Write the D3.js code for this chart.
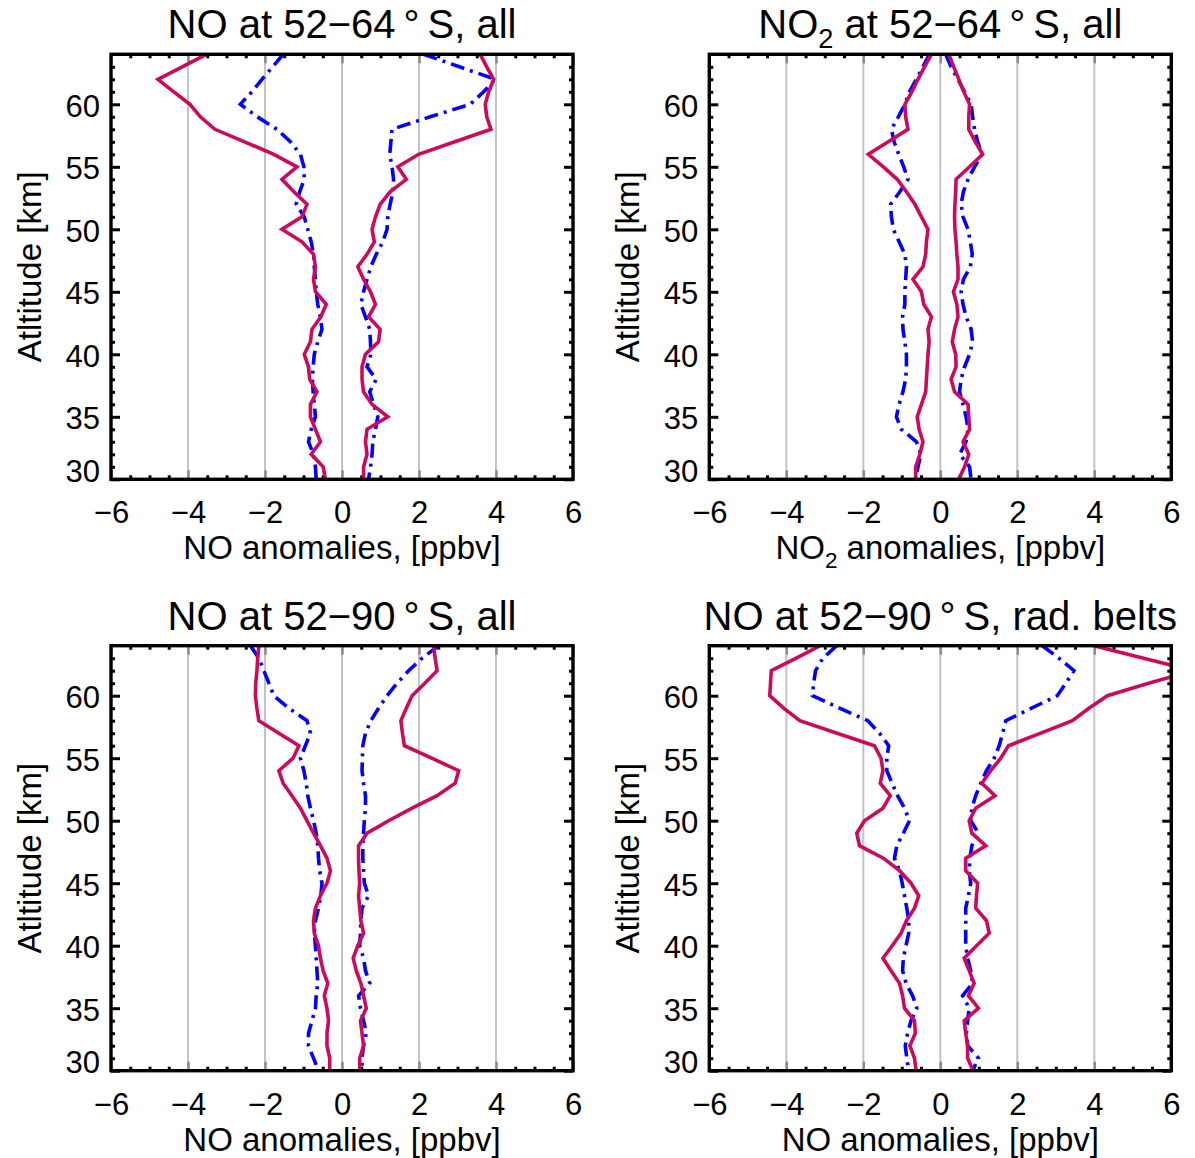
<!DOCTYPE html>
<html>
<head>
<meta charset="utf-8">
<script src="https://cdn.jsdelivr.net/npm/d3@7"></script>
<style>
body { margin: 0; background: #fff; }
svg { display: block; font-family: "Liberation Sans", Arial, Helvetica, sans-serif; }
</style>
</head>
<body>
<svg width="1195" height="1158"></svg>
<script>
var altitudes = [64, 63, 62, 61, 60, 59, 58, 57, 56, 55, 54, 53, 52, 51, 50, 49, 48, 47, 46, 45,
                 44, 43, 42, 41, 40, 39, 38, 37, 36, 35, 34, 33, 32, 31, 30];
var xTickValues = [-6, -4, -2, 0, 2, 4, 6];
var yTickValues = [30, 35, 40, 45, 50, 55, 60];

// NO at 52-64S, all
var no64RedLow = [-3.52, -4.15, -4.78, -4.37, -3.95, -3.68, -3.30, -2.53, -1.77, -1.17,
                  -1.56, -1.25, -0.91, -1.04, -1.56, -1.04, -0.74, -0.69, -0.74, -0.69,
                  -0.41, -0.55, -0.78, -0.82, -0.98, -0.87, -0.84, -0.65, -0.82, -0.82,
                  -0.69, -0.56, -0.80, -0.49, -0.43];
var no64BlueLow = [-1.53, -1.80, -2.08, -2.34, -2.64, -2.20, -1.69, -1.34, -1.08, -0.99,
                   -0.98, -1.10, -1.19, -0.98, -0.89, -0.80, -0.74, -0.72, -0.69, -0.67,
                   -0.63, -0.56, -0.52, -0.63, -0.72, -0.75, -0.77, -0.75, -0.72, -0.69,
                   -0.80, -0.87, -0.74, -0.69, -0.67];
var no64RedHigh = [3.59, 3.76, 3.94, 3.81, 3.72, 3.76, 3.87, 2.93, 1.99, 1.45,
                   1.67, 1.25, 0.99, 0.87, 0.78, 0.84, 0.65, 0.41, 0.56, 0.74,
                   0.87, 0.69, 0.99, 0.95, 0.61, 0.52, 0.52, 0.56, 0.78, 1.19,
                   0.65, 0.61, 0.65, 0.56, 0.56];
var no64BlueHigh = [2.12, 3.05, 3.98, 3.68, 3.33, 2.29, 1.30, 1.27, 1.24, 1.30,
                    1.34, 1.32, 1.25, 1.19, 1.17, 1.06, 0.89, 0.75, 0.65, 0.56,
                    0.49, 0.61, 0.72, 0.74, 0.75, 0.65, 0.89, 0.72, 0.82, 0.93,
                    0.87, 0.80, 0.78, 0.74, 0.69];

// NO2 at 52-64S, all
var no2RedLow = [-0.23, -0.41, -0.58, -0.74, -0.92, -0.90, -0.84, -1.35, -1.87, -1.48,
                 -1.12, -0.88, -0.66, -0.49, -0.32, -0.36, -0.38, -0.45, -0.71, -0.49,
                 -0.43, -0.23, -0.32, -0.29, -0.32, -0.34, -0.36, -0.38, -0.49, -0.60,
                 -0.55, -0.45, -0.53, -0.64, -0.64];
var no2BlueLow = [-0.28, -0.45, -0.62, -0.80, -0.92, -1.09, -1.27, -1.20, -1.08, -0.95,
                  -0.84, -1.05, -1.29, -1.27, -1.22, -1.07, -0.92, -0.88, -0.90, -0.92,
                  -0.92, -0.98, -0.97, -0.92, -0.88, -0.88, -0.90, -0.97, -1.07, -1.14,
                  -1.01, -0.62, -0.50, -0.58, -0.64];
var no2RedHigh = [0.22, 0.35, 0.48, 0.61, 0.76, 0.74, 0.74, 0.91, 1.10, 0.76,
                  0.41, 0.40, 0.38, 0.37, 0.38, 0.41, 0.43, 0.46, 0.46, 0.34,
                  0.43, 0.46, 0.37, 0.31, 0.40, 0.41, 0.28, 0.37, 0.72, 0.74,
                  0.76, 0.59, 0.74, 0.63, 0.48];
var no2BlueHigh = [0.14, 0.28, 0.46, 0.63, 0.80, 0.84, 0.89, 0.97, 1.09, 0.89,
                   0.72, 0.60, 0.54, 0.59, 0.72, 0.78, 0.83, 0.78, 0.60, 0.54,
                   0.59, 0.67, 0.80, 0.84, 0.76, 0.63, 0.54, 0.50, 0.59, 0.67,
                   0.72, 0.67, 0.50, 0.76, 0.80];

// NO at 52-90S, all
var no90RedLow = [-2.16, -2.19, -2.21, -2.24, -2.25, -2.21, -2.16, -1.64, -1.12, -1.27,
                  -1.64, -1.53, -1.30, -1.08, -0.91, -0.74, -0.56, -0.39, -0.30, -0.39,
                  -0.56, -0.69, -0.74, -0.72, -0.61, -0.56, -0.49, -0.37, -0.46, -0.39,
                  -0.35, -0.39, -0.39, -0.32, -0.32];
var no90BlueLow = [-2.38, -2.16, -2.03, -1.90, -1.77, -1.38, -0.91, -0.82, -0.95, -1.08,
                   -0.99, -0.93, -0.89, -0.82, -0.74, -0.67, -0.63, -0.61, -0.58, -0.52,
                   -0.55, -0.61, -0.69, -0.72, -0.69, -0.67, -0.65, -0.63, -0.67, -0.69,
                   -0.78, -0.87, -0.87, -0.74, -0.61];
var no90RedHigh = [2.38, 2.42, 2.47, 2.15, 1.82, 1.67, 1.53, 1.57, 1.62, 2.33,
                   3.03, 2.94, 2.47, 1.82, 1.21, 0.65, 0.43, 0.43, 0.44, 0.46,
                   0.43, 0.46, 0.49, 0.56, 0.41, 0.29, 0.37, 0.49, 0.56, 0.63,
                   0.48, 0.52, 0.56, 0.46, 0.46];
var no90BlueHigh = [2.51, 2.08, 1.73, 1.43, 1.17, 0.95, 0.75, 0.61, 0.54, 0.53,
                    0.52, 0.56, 0.61, 0.61, 0.58, 0.56, 0.54, 0.54, 0.56, 0.58,
                    0.69, 0.52, 0.49, 0.48, 0.46, 0.56, 0.61, 0.72, 0.43, 0.48,
                    0.56, 0.63, 0.56, 0.52, 0.52];

// NO at 52-90S, rad. belts
var beltsRedLow = [-3.12, -3.74, -4.39, -4.41, -4.43, -4.07, -3.65, -2.68, -1.71, -1.54,
                   -1.49, -1.56, -1.30, -1.49, -1.97, -2.17, -2.10, -1.48, -1.06, -0.76,
                   -0.56, -0.67, -0.88, -1.02, -1.25, -1.49, -1.28, -1.06, -0.98, -0.93,
                   -0.67, -0.65, -0.79, -0.67, -0.63];
var beltsBlueLow = [-2.69, -3.05, -3.24, -3.29, -3.32, -2.62, -1.88, -1.58, -1.34, -1.39,
                    -1.39, -1.25, -1.11, -0.93, -0.80, -0.96, -1.13, -1.19, -1.06, -0.99,
                    -0.93, -0.87, -0.82, -0.82, -0.89, -0.96, -0.98, -0.89, -0.72, -0.61,
                    -0.76, -0.85, -0.91, -0.87, -0.82];
var beltsRedHigh = [3.99, 5.28, 6.57, 5.41, 4.34, 3.86, 3.43, 2.61, 1.77, 1.57,
                    1.31, 1.08, 1.42, 0.92, 0.75, 0.82, 1.18, 0.66, 0.66, 0.97,
                    0.94, 0.92, 1.20, 1.27, 0.94, 0.62, 0.75, 0.88, 0.73, 0.99,
                    0.62, 0.66, 0.71, 0.71, 0.85];
var beltsBlueHigh = [2.65, 3.08, 3.47, 3.26, 3.04, 2.37, 1.70, 1.62, 1.53, 1.40,
                     1.20, 1.05, 0.92, 0.82, 0.79, 0.99, 0.82, 0.77, 0.75, 0.79,
                     0.73, 0.66, 0.66, 0.66, 0.66, 0.71, 0.79, 0.84, 0.58, 0.75,
                     0.71, 0.68, 0.71, 0.99, 0.84];

var titles = [
  [["NO", 0], [" at 52\u221264\u2009\u00b0\u2009S, all", 0]],
  [["NO", 0], ["2", 1], [" at 52\u221264\u2009\u00b0\u2009S, all", 0]],
  [["NO", 0], [" at 52\u221290\u2009\u00b0\u2009S, all", 0]],
  [["NO", 0], [" at 52\u221290\u2009\u00b0\u2009S, rad. belts", 0]]
];
var xLabels = [
  [["NO anomalies, [ppbv]", 0]],
  [["NO", 0], ["2", 1], [" anomalies, [ppbv]", 0]],
  [["NO anomalies, [ppbv]", 0]],
  [["NO anomalies, [ppbv]", 0]]
];
var series = [
  [no64BlueLow, no64BlueHigh, no64RedLow, no64RedHigh],
  [no2BlueLow, no2BlueHigh, no2RedLow, no2RedHigh],
  [no90BlueLow, no90BlueHigh, no90RedLow, no90RedHigh],
  [beltsBlueLow, beltsBlueHigh, beltsRedLow, beltsRedHigh]
];

var svg = d3.select("svg");
var plotLefts = [111, 709.3], plotTops = [54.3, 645.7];
var width = 462, height = 425;
var red = "#cc0a5c", blue = "#0000ff";

function richText(sel, pieces, size) {
  var sub = false;
  pieces.forEach(function(p) {
    var t = sel.append("tspan").text(p[0]);
    if (p[1]) {
      t.attr("font-size", size * 0.68).attr("dy", size * 0.25);
      sub = true;
    } else if (sub) {
      t.attr("dy", -size * 0.25);
      sub = false;
    }
  });
}

function cleanAxis(s) {
  s.select(".domain").remove();
  s.attr("font-family", null).attr("font-size", null);
}

function drawPanel(i) {
  var col = i % 2, row = Math.floor(i / 2);
  var left = plotLefts[col], top = plotTops[row];

  var x = d3.scaleLinear().domain([-6, 6]).range([0, width]);
  var y = d3.scaleLinear().domain([30, 64]).range([height, 0]);

  var g = svg.append("g").attr("transform", "translate(" + left + "," + top + ")");

  g.append("clipPath").attr("id", "clip" + i)
    .append("rect").attr("width", width).attr("height", height);

  // vertical grid
  g.selectAll(".grid").data([-4, -2, 0, 2, 4]).enter().append("line")
    .attr("class", "grid")
    .attr("x1", function(d) { return x(d); }).attr("x2", function(d) { return x(d); })
    .attr("y1", 0).attr("y2", height)
    .attr("stroke", "#c4c4c4").attr("stroke-width", 2);

  // x ticks, bottom with labels
  var xb = g.append("g").attr("transform", "translate(0," + height + ")")
    .call(d3.axisBottom(x).tickValues(xTickValues).tickSize(-9).tickPadding(22))
    .call(cleanAxis);
  xb.selectAll("line").attr("stroke", "#8a8a8a").attr("stroke-width", 2.5);
  xb.selectAll("text").attr("font-size", 31).attr("fill", "#000");

  var xt = g.append("g")
    .call(d3.axisTop(x).tickValues(xTickValues).tickSize(-9).tickFormat(""))
    .call(cleanAxis);
  xt.selectAll("line").attr("stroke", "#8a8a8a").attr("stroke-width", 2.5);

  var minorX = d3.range(-5.5, 6, 0.5).filter(function(v) { return v % 2 != 0; });
  [d3.axisBottom(x), d3.axisTop(x)].forEach(function(ax, k) {
    g.append("g").attr("transform", "translate(0," + (k == 0 ? height : 0) + ")")
      .call(ax.tickValues(minorX).tickSize(-4).tickFormat(""))
      .call(cleanAxis)
      .selectAll("line").attr("stroke", "#000").attr("stroke-width", 3);
  });

  // y ticks
  var minorY = d3.range(31, 64, 1).filter(function(v) { return v % 5 != 0; });
  var yl = g.append("g")
    .call(d3.axisLeft(y).tickValues(yTickValues).tickSize(-9).tickPadding(11))
    .call(cleanAxis);
  yl.selectAll("line").attr("stroke", "#000").attr("stroke-width", 3);
  yl.selectAll("text").attr("font-size", 31).attr("fill", "#000")
    .attr("y", function(d) { return d == 30 ? -8 : 2; });

  g.append("g").attr("transform", "translate(" + width + ",0)")
    .call(d3.axisRight(y).tickValues(yTickValues).tickSize(-9).tickFormat(""))
    .call(cleanAxis)
    .selectAll("line").attr("stroke", "#000").attr("stroke-width", 3);

  [0, width].forEach(function(pos, k) {
    var ax = k == 0 ? d3.axisLeft(y) : d3.axisRight(y);
    g.append("g").attr("transform", "translate(" + pos + ",0)")
      .call(ax.tickValues(minorY).tickSize(-4).tickFormat(""))
      .call(cleanAxis)
      .selectAll("line").attr("stroke", "#000").attr("stroke-width", 3);
  });

  // profiles
  var line = d3.line()
    .x(function(d) { return x(d[0]); })
    .y(function(d) { return y(d[1]); });

  var lines = g.append("g").attr("clip-path", "url(#clip" + i + ")");
  series[i].forEach(function(vals, k) {
    lines.append("path")
      .datum(d3.zip(vals, altitudes))
      .attr("d", line)
      .attr("fill", "none")
      .attr("stroke", k < 2 ? blue : red)
      .attr("stroke-width", 3.6)
      .attr("stroke-linejoin", "miter")
      .attr("stroke-dasharray", k < 2 ? "14,6,3,6" : null);
  });

  g.append("rect")
    .attr("width", width).attr("height", height)
    .attr("fill", "none").attr("stroke", "#000").attr("stroke-width", 3.4);

  // texts
  var title = g.append("text")
    .attr("x", width / 2).attr("y", -16)
    .attr("text-anchor", "middle").attr("font-size", 40);
  richText(title, titles[i], 40);

  var xl = g.append("text")
    .attr("x", width / 2).attr("y", height + 80)
    .attr("text-anchor", "middle").attr("font-size", 33);
  richText(xl, xLabels[i], 33);

  g.append("text")
    .attr("transform", "translate(-70," + (height / 2) + ") rotate(-90)")
    .attr("text-anchor", "middle").attr("font-size", 33)
    .text("Atltitude [km]");
}

for (var i = 0; i < 4; i++) {
  drawPanel(i);
}
</script>
</body>
</html>
